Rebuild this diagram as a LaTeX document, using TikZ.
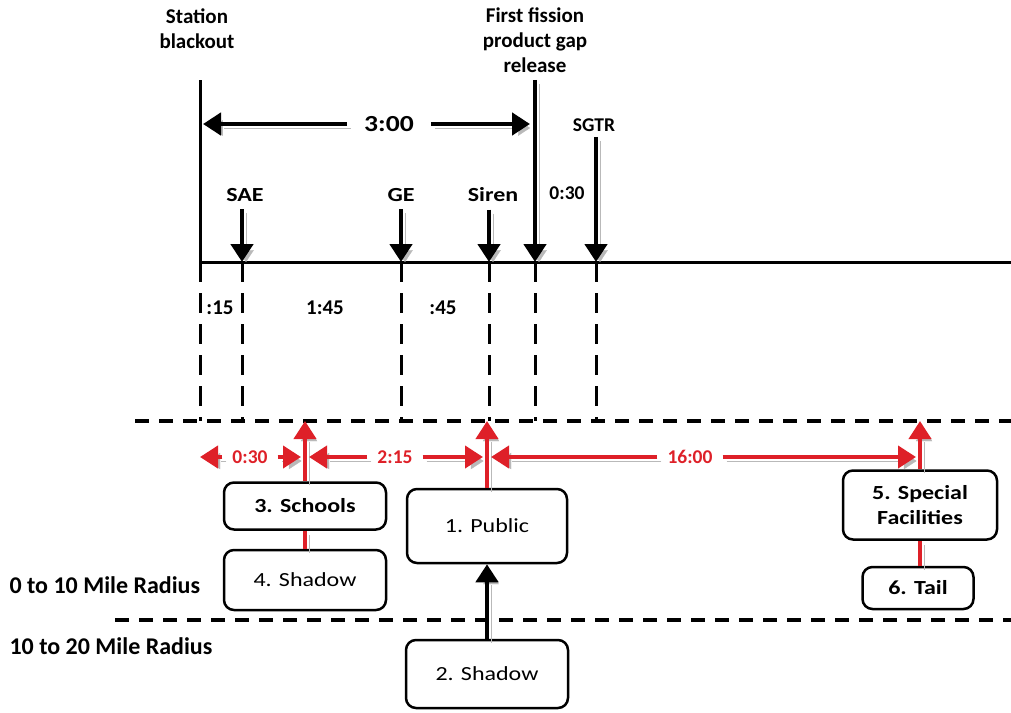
\documentclass[tikz,border=0pt]{standalone}
\usepackage{fontspec}
\setmainfont{Carlito}
\newfontfamily\widefont{Carlito}[FakeStretch=1.2]
\usetikzlibrary{arrows.meta, positioning}
\definecolor{evacred}{RGB}{222,32,40}

\begin{document}
\begin{tikzpicture}[
    x=1pt, y=-1pt,
    font=\bfseries\fontsize{19.5}{24}\selectfont,
    shadowed/.style={
        preaction={draw=gray!55, transform canvas={shift={(4pt,-4pt)}}}
    },
    axis/.style={line width=3pt},
    tick/.style={line width=3pt, dash pattern=on 20pt off 11pt},
    border/.style={line width=3.5pt, dash pattern=on 14pt off 10pt},
    marker/.style={
        shadowed,
        line width=4.5pt,
        -{Triangle[length=18pt, width=22pt]}
    },
    redmarker/.style={
        shadowed,
        draw=evacred,
        line width=4pt,
        -{Triangle[length=18pt, width=22pt]}
    },
    redlink/.style={shadowed, draw=evacred, line width=4pt},
    event/.style={font=\widefont\bfseries\fontsize{20}{24}\selectfont},
    heading/.style={align=center, font=\bfseries\fontsize{21}{25}\selectfont},
    zone/.style={
        draw,
        fill=white,
        line width=2.5pt,
        rounded corners=10pt,
        align=center,
        inner sep=0pt,
        font=\widefont\bfseries\fontsize{20}{25}\selectfont
    },
    plainzone/.style={zone, font=\widefont\fontsize{20}{24}\selectfont},
    redtime/.style={text=evacred, inner xsep=10pt},
    interval/.style={font=\bfseries\fontsize{21}{24}\selectfont},
    radius/.style={anchor=west, font=\bfseries\fontsize{24}{28}\selectfont}
]
    \useasboundingbox (0,0) rectangle (1011,712);

    % Timeline
    \coordinate (start) at (200,80);
    \coordinate (t0) at (200,262);
    \coordinate (tend) at (1011,262);
    \coordinate (saet) at (242,262);
    \coordinate (get) at (401,262);
    \coordinate (sirent) at (489,262);
    \coordinate (fissiont) at (535,262);
    \coordinate (sgtrt) at (596,262);
    \draw[axis] (t0) -- (tend);
    \draw[axis] (start) -- (t0);

    % Event labels
    \node[heading] (blackout) at (197,29) {Station\\blackout};
    \node[heading] (fission) at (535,40) {First fission\\product gap\\release};
    \node[event] (sae) at (245,195) {SAE};
    \node[event] (ge) at (401,195) {GE};
    \node[event] (siren) at (493,195) {Siren};
    \node (sgtr) at (594,125) {SGTR};
    \node (gap030) at (567,193) {0:30};

    % Event arrows
    \draw[marker] (sae.south -| saet) ++(0,4) -- (saet);
    \draw[marker] (ge.south -| get) ++(0,4) -- (get);
    \draw[marker] (siren.south -| sirent) ++(0,4) -- (sirent);
    \draw[marker] (sgtr.south -| sgtrt) ++(0,2) -- (sgtrt);
    \draw[marker] (fission.south) ++(0,4) -- (fissiont);

    % 3:00 span
    \node[inner xsep=17pt, font=\widefont\bfseries\fontsize{23}{24}\selectfont] (span300) at (389,124) {3:00};
    \draw[marker, shorten >=3pt] (span300.west) -- (span300.west -| start);
    \draw[marker, shorten >=5pt] (span300.east) -- (span300.east -| fissiont);

    % Ticks down to the zone line
    \coordinate (zonetop) at (135,421);
    \coordinate (zonetopend) at (1011,421);
    \coordinate (zonemid) at (115,620);
    \coordinate (zonemidend) at (1011,620);
    \foreach \t in {t0, saet, get, sirent, fissiont, sgtrt}
        \draw[tick] (\t) -- (\t |- zonetop);

    % Intervals
    \node[interval] (int15) at (220,308) {:15};
    \node[interval] (int145) at (325,308) {1:45};
    \node[interval] (int45) at (443,308) {:45};

    % Zone boundaries
    \draw[border] (zonetop) -- (zonetopend);
    \draw[border] (zonemid) -- (zonemidend);
    \node[radius] (inner) at (6,585) {0 to 10 Mile Radius};
    \node[radius] (outer) at (6,646) {10 to 20 Mile Radius};

    % Groups
    \node[zone, minimum width=162pt, minimum height=47pt] (schools) at (305,506) {3. Schools};
    \node[plainzone, minimum width=162pt, minimum height=60pt] (shadow4) at (305,580) {4. Shadow};
    \node[plainzone, minimum width=160pt, minimum height=74pt] (public) at (487,526) {1. Public};
    \node[plainzone, minimum width=162pt, minimum height=68pt] (shadow2) at (487,674) {2. Shadow};
    \node[zone, minimum width=154pt, minimum height=69pt] (special) at (920,505) {5. Special\\Facilities};
    \node[zone, minimum width=111pt, minimum height=42pt] (tail) at (918,588) {6. Tail};

    % Group links
    \draw[redlink] (shadow4.north) -- (schools.south);
    \draw[redlink] (tail.north -| special.south) -- (special.south);
    \draw[marker] (shadow2.north) -- (public.south);
    \draw[redmarker] (schools.north) -- (schools.north |- zonetop);
    \draw[redmarker] (public.north) -- (public.north |- zonetop);
    \draw[redmarker] (special.north) -- (special.north |- zonetop);

    % Red intervals
    \node[redtime] (red030) at (250,457) {0:30};
    \node[redtime] (red215) at (395,457) {2:15};
    \node[redtime] (red1600) at (690,457) {16:00};
    \draw[redmarker] (red030.west) -- (red030.west -| t0);
    \draw[redmarker, shorten >=4pt] (red030.east) -- (red030.east -| schools.north);
    \draw[redmarker, shorten >=4pt] (red215.west) -- (red215.west -| schools.north);
    \draw[redmarker, shorten >=4pt] (red215.east) -- (red215.east -| public.north);
    \draw[redmarker, shorten >=4pt] (red1600.west) -- (red1600.west -| public.north);
    \draw[redmarker, shorten >=4pt] (red1600.east) -- (red1600.east -| special.north);
\end{tikzpicture}
\end{document}
